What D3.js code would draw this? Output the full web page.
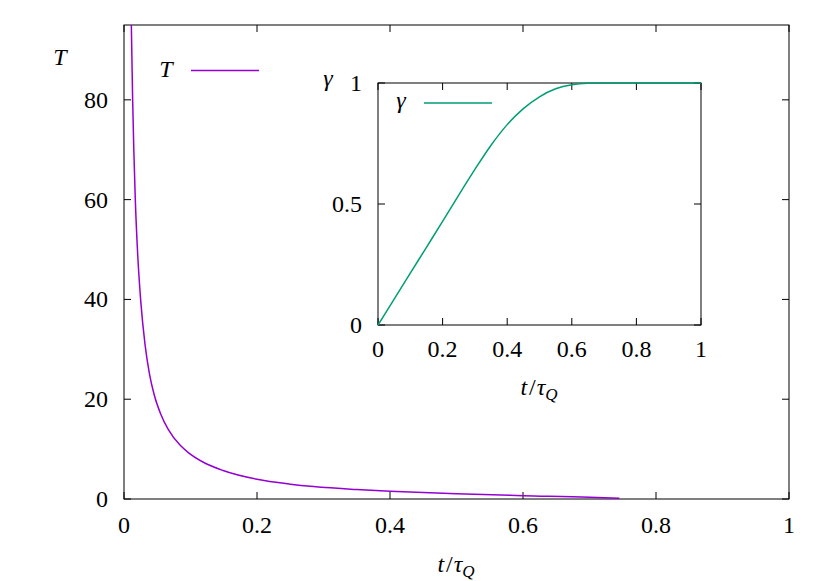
<!DOCTYPE html>
<html>
<head>
<meta charset="utf-8">
<script src="https://cdn.jsdelivr.net/npm/d3@7"></script>
</head>
<body style="margin:0;background:#fff">
<div id="chart"></div>
<script>
// main curve T(t)
var tT   = [0.0105, 0.0113, 0.013, 0.017, 0.0206, 0.0251, 0.0316, 0.038, 0.0456, 0.055, 0.0667, 0.0842, 0.0967, 0.118, 0.149, 0.2, 0.25, 0.285, 0.35, 0.4, 0.5, 0.6, 0.7, 0.745];
var valT = [100, 92.9, 80, 60, 49, 39.8, 31, 25.3, 20.8, 17.1, 13.9, 10.8, 9.3, 7.46, 5.7, 3.95, 2.98, 2.49, 1.89, 1.55, 1.04, 0.67, 0.36, 0.13];

// inset curve gamma(t)
var tGamma   = [0, 0.05, 0.1, 0.15, 0.2, 0.25, 0.3, 0.35, 0.4, 0.45, 0.5, 0.55, 0.6, 0.65, 0.7, 0.8, 0.9, 1.0];
var valGamma = [0, 0.107, 0.214, 0.321, 0.428, 0.537, 0.643, 0.743, 0.828, 0.894, 0.943, 0.976, 0.993, 0.999, 1, 1, 1, 1];

var xTicks = [0, 0.2, 0.4, 0.6, 0.8, 1];
var xTickLabels = ["0", "0.2", "0.4", "0.6", "0.8", "1"];
var yTicks = [0, 20, 40, 60, 80];
var insetYTicks = [0, 0.5, 1];
var insetYTickLabels = ["0", "0.5", "1"];

var width = 830, height = 581;
var tickLen = 7;
var FONT = 'Liberation Serif';

var svg = d3.select('#chart').append('svg')
    .attr('width', width)
    .attr('height', height);

// put the font on every text element itself
function label(sel, italic) {
  sel.style('font-family', FONT).style('font-size', '24px').style('fill', '#000');
  if (italic) sel.style('font-style', 'italic');
  return sel;
}

// main panel
var x = d3.scaleLinear().domain([0, 1]).range([124, 789]);
var y = d3.scaleLinear().domain([0, 95]).range([499, 25]);

// inset panel
var xi = d3.scaleLinear().domain([0, 1]).range([378, 701]);
var yi = d3.scaleLinear().domain([0, 1]).range([325, 83]);

svg.append('clipPath').attr('id', 'clipMain')
  .append('rect')
    .attr('x', x(0)).attr('y', y(95))
    .attr('width', x(1) - x(0)).attr('height', y(0) - y(95));

function frame(xs, ys, xt, yt) {
  var g = svg.append('g');
  var x0 = xs.range()[0], x1 = xs.range()[1];
  var y0 = ys.range()[0], y1 = ys.range()[1];
  // ticks on all four sides, pointing in
  xt.forEach(function (d) {
    g.append('line').attr('x1', xs(d)).attr('x2', xs(d)).attr('y1', y0).attr('y2', y0 - tickLen);
    g.append('line').attr('x1', xs(d)).attr('x2', xs(d)).attr('y1', y1).attr('y2', y1 + tickLen);
  });
  yt.forEach(function (d) {
    g.append('line').attr('x1', x0).attr('x2', x0 + tickLen).attr('y1', ys(d)).attr('y2', ys(d));
    g.append('line').attr('x1', x1).attr('x2', x1 - tickLen).attr('y1', ys(d)).attr('y2', ys(d));
  });
  g.selectAll('line').attr('stroke', '#000').attr('stroke-width', 1);
  g.append('rect')
    .attr('x', x0).attr('y', y1)
    .attr('width', x1 - x0).attr('height', y0 - y1)
    .attr('fill', 'none').attr('stroke', '#000').attr('stroke-width', 1);
  return g;
}

// --- main frame and labels
frame(x, y, xTicks, yTicks);

label(svg.selectAll('.xlab').data(xTicks).enter().append('text')
    .attr('x', function (d) { return x(d); })
    .attr('y', 533)
    .attr('text-anchor', 'middle')
    .text(function (d, i) { return xTickLabels[i]; }));

label(svg.selectAll('.ylab').data(yTicks).enter().append('text')
    .attr('x', 108)
    .attr('y', function (d) { return y(d) + 8; })
    .attr('text-anchor', 'end')
    .text(function (d) { return d; }));

function tOverTau(cx, by) {
  var t = label(svg.append('text').attr('x', cx).attr('y', by).attr('text-anchor', 'middle'));
  t.append('tspan').style('font-style', 'italic').text('t');
  t.append('tspan').attr('dx', 2).text('/');
  t.append('tspan').attr('dx', 1).style('font-style', 'italic').text('τ');
  t.append('tspan').style('font-style', 'italic').attr('dy', 5).style('font-size', '17px').text('Q');
}
tOverTau(456, 572);

label(svg.append('text').attr('x', 60).attr('y', 65)
    .attr('text-anchor', 'middle').text('T'), true);

// T curve
var lineT = d3.line()
    .x(function (d, i) { return x(tT[i]); })
    .y(function (d) { return y(d); })
    .curve(d3.curveMonotoneX);

svg.append('path')
    .datum(valT)
    .attr('clip-path', 'url(#clipMain)')
    .attr('d', lineT)
    .attr('fill', 'none')
    .attr('stroke', '#9400d3')
    .attr('stroke-width', 1.5);

// main legend
label(svg.append('text').attr('x', 166).attr('y', 77)
    .attr('text-anchor', 'middle').text('T'), true);
svg.append('line').attr('x1', 191).attr('x2', 259).attr('y1', 70.5).attr('y2', 70.5)
    .attr('stroke', '#9400d3').attr('stroke-width', 1.5);

// --- inset
frame(xi, yi, xTicks, insetYTicks);

label(svg.selectAll('.xilab').data(xTicks).enter().append('text')
    .attr('x', function (d) { return xi(d); })
    .attr('y', 357)
    .attr('text-anchor', 'middle')
    .text(function (d, i) { return xTickLabels[i]; }));

label(svg.selectAll('.yilab').data(insetYTicks).enter().append('text')
    .attr('x', 362)
    .attr('y', function (d) { return yi(d) + 8; })
    .attr('text-anchor', 'end')
    .text(function (d, i) { return insetYTickLabels[i]; }));

tOverTau(539, 395);

label(svg.append('text').attr('x', 328).attr('y', 86)
    .attr('text-anchor', 'middle').text('γ'), true);

var lineG = d3.line()
    .x(function (d, i) { return xi(tGamma[i]); })
    .y(function (d) { return yi(d); })
    .curve(d3.curveMonotoneX);

svg.append('path')
    .datum(valGamma)
    .attr('d', lineG)
    .attr('fill', 'none')
    .attr('stroke', '#009e73')
    .attr('stroke-width', 1.5);

label(svg.append('text').attr('x', 401).attr('y', 108)
    .attr('text-anchor', 'middle').text('γ'), true);
svg.append('line').attr('x1', 424).attr('x2', 492).attr('y1', 103).attr('y2', 103)
    .attr('stroke', '#009e73').attr('stroke-width', 1.5);
</script>
</body>
</html>
